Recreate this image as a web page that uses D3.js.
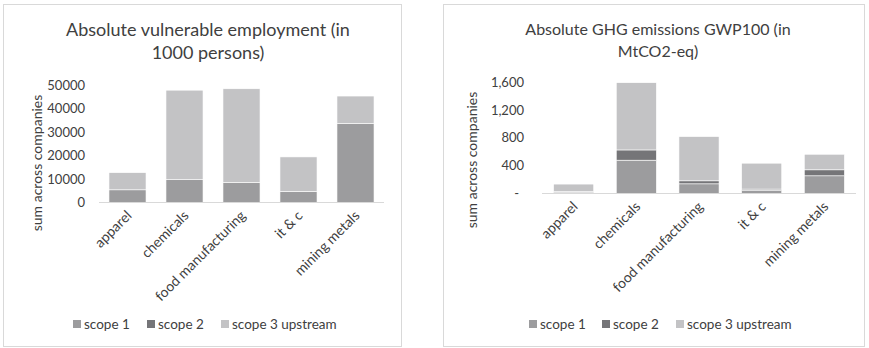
<!DOCTYPE html>
<html>
<head>
<meta charset="utf-8">
<script src="https://cdn.jsdelivr.net/npm/d3@7"></script>
<style>
  body { margin: 0; background: #fff; }
  svg text { font-family: Lato, "Open Sans", sans-serif; fill: #404040; }
</style>
</head>
<body>
<svg id="chart" width="869" height="348"></svg>
<script>
var categories = ['apparel', 'chemicals', 'food manufacturing', 'it & c', 'mining metals'];
var seriesNames = ['scope 1', 'scope 2', 'scope 3 upstream'];
var seriesColors = ['#9c9c9e', '#757578', '#c3c3c5'];

// vulnerable employment, 1000 persons
var empScope1 = [5400, 9700, 8500, 4700, 33600];
var empScope2 = [0, 0, 0, 0, 0];
var empScope3 = [7300, 38100, 39900, 14700, 11700];
var empTicks = [0, 10000, 20000, 30000, 40000, 50000];

// GHG emissions, MtCO2-eq
var ghgScope1 = [15, 478, 139, 43, 254];
var ghgScope2 = [15, 147, 43, 20, 86];
var ghgScope3 = [105, 965, 635, 372, 223];
var ghgTicks = [0, 400, 800, 1200, 1600];

var svg = d3.select('#chart');

function drawChart(cfg) {
    var g = svg.append('g');

    g.append('rect')
        .attr('x', cfg.frame[0] + 0.5).attr('y', cfg.frame[1] + 0.5)
        .attr('width', cfg.frame[2]).attr('height', cfg.frame[3])
        .attr('fill', '#fff').attr('stroke', '#d9d9d9');

    // title, two lines
    var title = g.append('text')
        .attr('text-anchor', 'middle')
        .attr('font-size', cfg.titleSize);
    cfg.title.forEach(function(line, i) {
        title.append('tspan')
            .attr('x', cfg.titleX)
            .attr('y', cfg.titleY + i * cfg.titleLead)
            .text(line);
    });

    var x = d3.scaleBand()
        .domain(categories)
        .range(cfg.xRange)
        .paddingInner(cfg.padIn)
        .paddingOuter(cfg.padOut);

    var y = d3.scaleLinear()
        .domain([0, cfg.ticks[cfg.ticks.length - 1]])
        .range(cfg.yRange);

    var rows = categories.map(function(c, i) {
        return { cat: c, s0: cfg.values[0][i], s1: cfg.values[1][i], s2: cfg.values[2][i] };
    });
    var stacked = d3.stack().keys(['s0', 's1', 's2'])(rows);

    g.selectAll('g.series')
        .data(stacked)
        .enter()
        .append('g')
            .attr('fill', function(d, i) { return seriesColors[i]; })
        .selectAll('rect')
        .data(function(d) { return d; })
        .enter()
        .append('rect')
            .attr('x', function(d) { return x(d.data.cat); })
            .attr('y', function(d) { return y(d[1]); })
            .attr('width', x.bandwidth())
            .attr('height', function(d) { return y(d[0]) - y(d[1]); })
            .attr('stroke', '#fff')
            .attr('stroke-width', 0.6);

    // baseline
    g.append('line')
        .attr('x1', cfg.xRange[0]).attr('x2', cfg.xRange[1])
        .attr('y1', y(0)).attr('y2', y(0))
        .attr('stroke', '#d9d9d9').attr('stroke-width', 1.2);

    var yAxis = d3.axisLeft(y)
        .tickValues(cfg.ticks)
        .tickSize(0)
        .tickPadding(0)
        .tickFormat(cfg.tickFormat);
    var ya = g.append('g')
        .attr('transform', 'translate(' + cfg.tickX + ',0)')
        .call(yAxis);
    ya.select('.domain').remove();
    ya.selectAll('text')
        .attr('font-size', cfg.tickSize)
        .attr('font-family', null)
        .attr('fill', '#404040')
        .attr('dx', function(d) { return d === 0 ? cfg.zeroShift : 0; });

    g.append('text')
        .attr('transform', 'translate(' + cfg.yTitleX + ',' + cfg.yTitleY + ') rotate(-90)')
        .attr('text-anchor', 'middle')
        .attr('font-size', cfg.yTitleSize)
        .text('sum across companies');

    g.selectAll('text.cat')
        .data(categories)
        .enter()
        .append('text')
            .attr('class', 'cat')
            .attr('text-anchor', 'end')
            .attr('font-size', cfg.catSize)
            .attr('transform', function(d) {
                return 'translate(' + (x(d) + x.bandwidth() / 2 + 5) + ',' + (y(0) + 14) + ') rotate(-45)';
            })
            .text(function(d) { return d; });

    var legend = g.selectAll('g.legend')
        .data(seriesNames)
        .enter()
        .append('g')
            .attr('transform', function(d, i) {
                return 'translate(' + cfg.legendX[i] + ',' + cfg.legendY + ')';
            });
    legend.append('rect')
        .attr('x', 0).attr('y', -4)
        .attr('width', 8).attr('height', 8)
        .attr('fill', function(d, i) { return seriesColors[i]; });
    legend.append('text')
        .attr('x', 11).attr('y', 5)
        .attr('font-size', cfg.legendSize)
        .text(function(d) { return d; });
}

drawChart({
    frame: [3, 4, 398, 342],
    title: ['Absolute vulnerable employment (in', '1000 persons)'],
    titleX: 208, titleY: 36, titleSize: 18, titleLead: 23,
    xRange: [99, 384], padIn: 0.35, padOut: 0.175,
    yRange: [202.5, 85],
    ticks: empTicks,
    tickFormat: d3.format('d'),
    tickX: 85, tickSize: 13, zeroShift: 0,
    values: [empScope1, empScope2, empScope3],
    yTitleX: 42, yTitleY: 163, yTitleSize: 14,
    catSize: 14,
    legendX: [73, 147, 221], legendY: 324, legendSize: 13.5
});

drawChart({
    frame: [443, 4, 421, 342],
    title: ['Absolute GHG emissions GWP100 (in', 'MtCO2-eq)'],
    titleX: 658, titleY: 35, titleSize: 16, titleLead: 22,
    xRange: [542, 856], padIn: 0.36, padOut: 0.185,
    yRange: [193.5, 82],
    ticks: ghgTicks,
    tickFormat: function(d) { return d === 0 ? '-' : d3.format(',')(d); },
    tickX: 524, tickSize: 13, zeroShift: -5,
    values: [ghgScope1, ghgScope2, ghgScope3],
    yTitleX: 477, yTitleY: 160, yTitleSize: 14,
    catSize: 14,
    legendX: [529, 602, 676], legendY: 324, legendSize: 13.5
});
</script>
</body>
</html>
